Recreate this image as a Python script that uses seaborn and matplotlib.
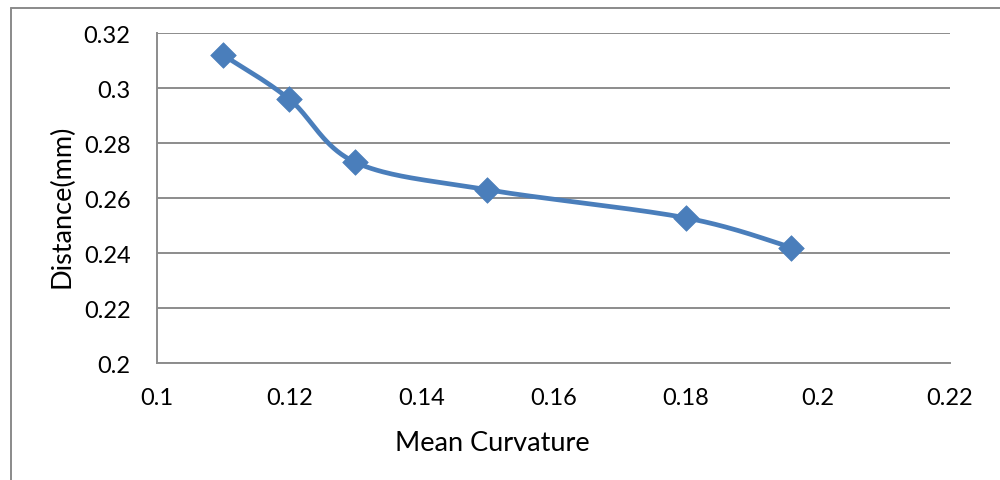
import numpy as np
import pandas as pd
import matplotlib
matplotlib.use("Agg")
import matplotlib.pyplot as plt
from matplotlib.lines import Line2D
import seaborn as sns

# Measured values
mean_curvature = [0.11, 0.12, 0.13, 0.15, 0.18, 0.196]
distance_mm = [0.312, 0.296, 0.273, 0.263, 0.2528, 0.242]

x_ticks = [0.10, 0.12, 0.14, 0.16, 0.18, 0.20, 0.22]
x_tick_labels = ["0.1", "0.12", "0.14", "0.16", "0.18", "0.2", "0.22"]
y_ticks = [0.20, 0.22, 0.24, 0.26, 0.28, 0.30, 0.32]
y_tick_labels = ["0.2", "0.22", "0.24", "0.26", "0.28", "0.3", "0.32"]

LINE_BLUE = "#4A7EBB"
GRID_GRAY = "#8C8C8C"


def smooth_curve(xs, ys, steps=40):
    """Bezier smoothing through every point (Catmull-Rom style control points)."""
    p = np.column_stack([xs, ys]).astype(float)
    n = len(p)
    out = []
    t = np.linspace(0, 1, steps)
    for i in range(n - 1):
        p0 = p[i - 1] if i > 0 else p[i]
        p1 = p[i]
        p2 = p[i + 1]
        p3 = p[i + 2] if i + 2 < n else p[i + 1]
        c1 = p1 + (p2 - p0) / 6.0
        c2 = p2 - (p3 - p1) / 6.0
        seg = ((1 - t) ** 3)[:, None] * p1 + (3 * (1 - t) ** 2 * t)[:, None] * c1 \
            + (3 * (1 - t) * t ** 2)[:, None] * c2 + (t ** 3)[:, None] * p2
        out.append(seg if i == 0 else seg[1:])
    return np.vstack(out)


sns.set_theme(style="white")
plt.rcParams["font.family"] = ["Lato", "DejaVu Sans"]

points = pd.DataFrame({"curvature": mean_curvature, "distance": distance_mm})
curve_xy = smooth_curve(mean_curvature, distance_mm)
curve = pd.DataFrame({"curvature": curve_xy[:, 0], "distance": curve_xy[:, 1]})

fig = plt.figure(figsize=(10, 4.81), dpi=100)
ax = fig.add_axes([0.157, 0.2432, 0.793, 0.6861])

sns.lineplot(data=curve, x="curvature", y="distance", ax=ax, color=LINE_BLUE,
             linewidth=3.4, sort=False, estimator=None, zorder=3)
sns.scatterplot(data=points, x="curvature", y="distance", ax=ax, marker="D",
                s=170, color=LINE_BLUE, edgecolor=LINE_BLUE, linewidth=0.5, zorder=4)

ax.set_xlim(0.10, 0.22)
ax.set_ylim(0.20, 0.32)
ax.set_xticks(x_ticks)
ax.set_xticklabels(x_tick_labels)
ax.set_yticks(y_ticks)
ax.set_yticklabels(y_tick_labels)

ax.yaxis.grid(True, color=GRID_GRAY, linewidth=1.4)
ax.xaxis.grid(False)
ax.set_axisbelow(True)

for side in ["top", "right"]:
    ax.spines[side].set_visible(False)
for side in ["left", "bottom"]:
    ax.spines[side].set_color(GRID_GRAY)
    ax.spines[side].set_linewidth(1.4)

ax.tick_params(axis="both", which="major", direction="out", length=6,
               width=1.4, color=GRID_GRAY, labelsize=17, labelcolor="black")
ax.tick_params(axis="y", pad=13)
ax.tick_params(axis="x", pad=11)

ax.set_xlabel("Mean Curvature", fontsize=19.5, color="black")
ax.set_ylabel("Distance(mm)", fontsize=19.5, color="black")
ax.xaxis.set_label_coords(0.4225, -0.202)
ax.yaxis.set_label_coords(-0.104, 0.477)

# Chart-area frame
fig.add_artist(Line2D([0.0105, 0.0105], [0.0, 0.9813], transform=fig.transFigure,
                      color="#8A8A8A", linewidth=1.4))
fig.add_artist(Line2D([0.0105, 1.0], [0.9813, 0.9813], transform=fig.transFigure,
                      color="#8A8A8A", linewidth=1.4))

fig.savefig("out.png", dpi=100, facecolor="white")
